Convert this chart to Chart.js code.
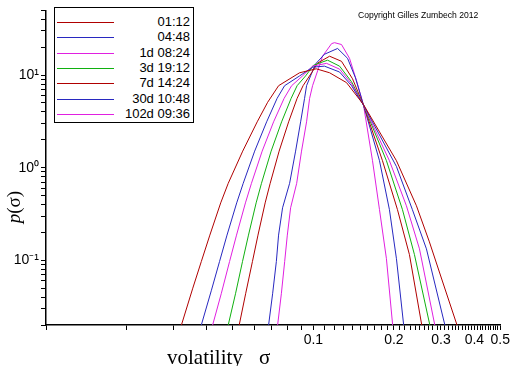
<!DOCTYPE html>
<html><head><meta charset="utf-8">
<script src="https://cdn.jsdelivr.net/npm/chart.js@4/dist/chart.umd.min.js"></script>
<style>
html,body{margin:0;padding:0;background:#fff;}
#wrap{position:relative;width:512px;height:366px;overflow:hidden;background:#fff;}
#c{position:absolute;left:0;top:0;}
#legend{position:absolute;left:54px;top:7px;width:140px;height:116px;border:1px solid #000;box-sizing:border-box;background:#fff;font:13px "Liberation Sans",Arial,sans-serif;color:#000;}
.row{position:absolute;left:0;right:0;height:16px;}
.row .ln{position:absolute;left:2px;width:57px;top:8px;height:1px;}
.row .tx{position:absolute;right:3px;top:0;line-height:16px;white-space:nowrap;}
#copy{position:absolute;left:358px;top:10px;font:8.6px "Liberation Sans",Arial,sans-serif;color:#000;white-space:nowrap;}
#xt1{position:absolute;left:167px;top:345px;font:21px "Liberation Serif","Times New Roman",serif;color:#000;white-space:nowrap;}
#xt2{position:absolute;left:259px;top:345px;font:21px "Liberation Serif","Times New Roman",serif;color:#000;}
#yt{position:absolute;left:-8px;top:196px;width:44px;text-align:center;transform:rotate(-90deg);font:19px "Liberation Serif","Times New Roman",serif;color:#000;white-space:nowrap;}
</style></head>
<body>
<div id="wrap">
<canvas id="c" width="512" height="366"></canvas>
<div id="legend"></div>
<div id="copy">Copyright Gilles Zumbech 2012</div>
<div id="xt1">volatility</div><div id="xt2">σ</div>
<div id="yt"><i>p</i>(σ)</div>
</div>
<script>
// ---- data ----
const seriesLabels = ["01:12","04:48","1d 08:24","3d 19:12","7d 14:24","30d 10:48","102d 09:36"];
const seriesColors = ["#b00000","#2828c0","#e020e0","#10b010","#b00000","#2828c0","#e020e0"];

const sig1 = [0.0308,0.0321,0.0354,0.0381,0.0410,0.04502,0.04803,0.05441,0.06165,0.06745,0.07413,0.0888,0.1025,0.115,0.133,0.154,0.2045,0.2429,0.2716,0.3037,0.3425,0.358];
const p1   = [0.014,0.020,0.050,0.097,0.187,0.417,0.678,1.51,3.13,5.09,7.69,10.6,11.7,10.6,8.3,4.8,1.19,0.388,0.158,0.0597,0.021,0.014];

const sig2 = [0.0369,0.0381,0.0415,0.04457,0.04753,0.05167,0.05465,0.06031,0.06687,0.07318,0.07806,0.0888,0.0995,0.110,0.1253,0.1389,0.154,0.2045,0.2346,0.2647,0.309,0.320];
const p2   = [0.014,0.020,0.0468,0.097,0.187,0.417,0.678,1.51,3.13,5.61,7.69,9.8,12.2,12.5,10.8,7.69,4.73,1.03,0.352,0.133,0.021,0.014];

const sig3 = [0.0410,0.0420,0.04522,0.04859,0.05159,0.05571,0.05866,0.06434,0.07100,0.07772,0.08292,0.0911,0.0993,0.112,0.1253,0.1389,0.154,0.1925,0.2228,0.2493,0.2835,0.2909];
const p3   = [0.014,0.020,0.0435,0.097,0.187,0.417,0.678,1.51,3.13,5.61,7.69,9.8,12.5,13.4,11.6,8.08,4.73,1.19,0.388,0.133,0.021,0.014];

const sig4 = [0.0469,0.04803,0.05114,0.05432,0.05718,0.06109,0.06396,0.06950,0.07607,0.08256,0.08693,0.0935,0.1002,0.113,0.1253,0.1389,0.154,0.1876,0.2154,0.2388,0.2716,0.2787];
const p4   = [0.014,0.020,0.0435,0.097,0.187,0.417,0.678,1.51,3.13,5.61,7.69,9.8,12.8,14.5,12.5,8.48,4.73,1.19,0.352,0.115,0.021,0.014];

const sig5 = [0.0515,0.05280,0.05580,0.05917,0.06206,0.06602,0.06893,0.07446,0.08082,0.08693,0.09152,0.0985,0.1037,0.115,0.1274,0.1401,0.154,0.1813,0.2063,0.2287,0.2535,0.2601];
const p5   = [0.014,0.020,0.0435,0.097,0.187,0.417,0.678,1.51,3.13,5.61,7.69,10.6,13.5,16.0,14.1,9.12,4.73,1.19,0.352,0.115,0.021,0.014];

const sig6 = [0.0669,0.0680,0.0704,0.0727,0.0741,0.0767,0.0815,0.0858,0.0896,0.0927,0.0943,0.0976,0.1019,0.110,0.1232,0.1342,0.1437,0.154,0.1767,0.1925,0.2045,0.2172,0.2210];
const p6   = [0.014,0.020,0.0435,0.097,0.187,0.369,0.678,1.51,3.13,5.61,7.69,9.8,13.2,16.8,19.4,15.2,9.35,4.73,1.19,0.352,0.104,0.021,0.014];

const sig7 = [0.0723,0.0735,0.0759,0.0781,0.0799,0.0822,0.0866,0.0903,0.0943,0.0968,0.0993,0.1037,0.1082,0.117,0.120,0.1274,0.1365,0.145,0.154,0.1664,0.1767,0.1876,0.1976,0.2010];
const p7   = [0.014,0.020,0.0435,0.097,0.187,0.369,0.678,1.51,3.13,5.61,7.69,11.1,16.0,21.9,22.4,21.4,15.2,8.69,4.73,1.19,0.352,0.104,0.021,0.014];

const xLabelValues = [0.1,0.2,0.3,0.4,0.5];
const yLabelValues = [0.1,1,10];
const yLabelTexts  = ["10\u207B\u00B9","10\u2070","10\u00B9"];

const sigmas = [sig1,sig2,sig3,sig4,sig5,sig6,sig7];
const probs  = [p1,p2,p3,p4,p5,p6,p7];

// tick positions: every 0.01 on x, 1..9 per decade on y
const xTickValues = [];
for (let i = 1; i <= 50; i++) xTickValues.push(i / 100);
const yTickValues = [];
for (let e = -2; e <= 1; e++) for (let m = 1; m <= 9; m++) {
  const v = parseFloat((m * Math.pow(10, e)).toPrecision(3));
  if (v >= 0.02 && v <= 50) yTickValues.push(v);
}

// legend (HTML)
const leg = document.getElementById('legend');
seriesLabels.forEach((lab, i) => {
  const r = document.createElement('div');
  r.className = 'row';
  r.style.top = (22 + i * 15.33 - 8 - 8) + 'px';
  const l = document.createElement('div'); l.className = 'ln'; l.style.background = seriesColors[i];
  const t = document.createElement('div'); t.className = 'tx'; t.textContent = lab;
  r.appendChild(l); r.appendChild(t); leg.appendChild(r);
});

const datasets = sigmas.map((s, i) => ({
  label: seriesLabels[i],
  data: s.map((v, j) => ({x: v, y: probs[i][j]})),
  borderColor: seriesColors[i],
  backgroundColor: seriesColors[i],
  borderWidth: 1,
  pointRadius: 0,
  showLine: true,
  tension: 0,
  clip: 0
}));

new Chart(document.getElementById('c'), {
  type: 'scatter',
  data: {datasets},
  options: {
    responsive: false,
    animation: false,
    events: [],
    layout: {padding: {top: 3, right: 11, left: 0, bottom: 0}},
    plugins: {legend: {display: false}, tooltip: {enabled: false}},
    scales: {
      x: {
        type: 'logarithmic', min: 0.01, max: 0.5, position: 'bottom',
        afterBuildTicks: s => { s.ticks = xTickValues.map(v => ({value: v})); },
        afterFit: s => { s.height = 41; },
        grid: {display: true, drawOnChartArea: false, drawTicks: true, tickLength: 5, color: '#000', tickColor: '#000', tickWidth: 1},
        border: {display: true, color: '#000', width: 1.5},
        ticks: {autoSkip: false, maxRotation: 0, minRotation: 0, padding: 2, color: '#000',
          font: {family: 'Liberation Sans', size: 14},
          callback: v => xLabelValues.includes(v) ? String(v) : ''}
      },
      y: {
        type: 'logarithmic', min: 0.02, max: 50, position: 'left',
        afterBuildTicks: s => { s.ticks = yTickValues.map(v => ({value: v})); },
        afterFit: s => { s.width = 46; },
        grid: {display: true, drawOnChartArea: false, drawTicks: true, tickLength: 5, color: '#000', tickColor: '#000', tickWidth: 1},
        border: {display: true, color: '#000', width: 1.5},
        ticks: {autoSkip: false, padding: 2, color: '#000',
          font: {family: 'Liberation Sans', size: 14},
          callback: v => { const k = yLabelValues.indexOf(v); return k >= 0 ? yLabelTexts[k] : ''; }}
      }
    }
  }
});
</script>
</body></html>
